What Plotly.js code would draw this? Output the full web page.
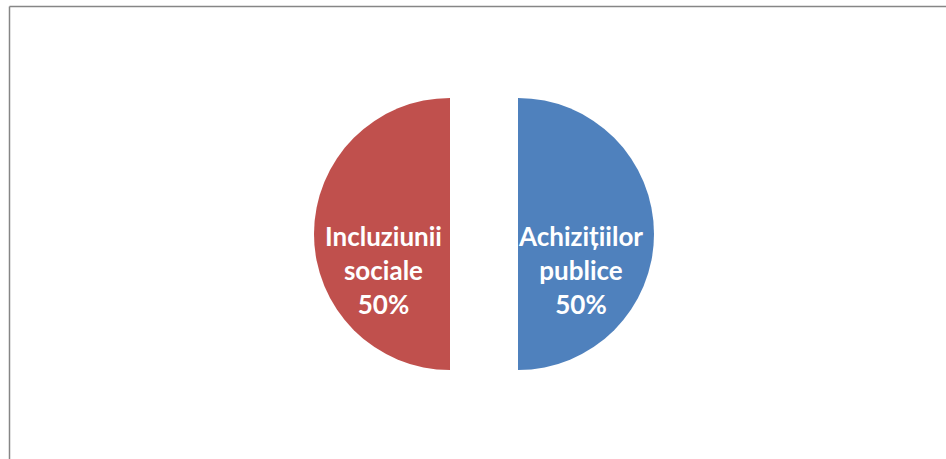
<!DOCTYPE html>
<html>
<head>
<meta charset="utf-8">
<script src="https://cdn.plot.ly/plotly-3.0.1.min.js"></script>
<style>html,body{margin:0;padding:0;background:#fff;}#chart{width:946px;height:459px;}</style>
</head>
<body>
<div id="chart"></div>
<script>
const labels = ['Achizițiilor<br>publice', 'Incluziunii<br>sociale'];
const values = [50, 50];
const colors = ['#4F81BD', '#C0504D'];

const W = 946, H = 459;
const total = values.reduce((a, b) => a + b, 0);

const trace = {
  type: 'pie',
  labels: labels,
  values: values,
  sort: false,
  direction: 'clockwise',
  rotation: 0,
  pull: [0.25, 0.25],
  marker: {colors: colors, line: {width: 0}},
  textinfo: 'none',
  hoverinfo: 'none',
  showlegend: false,
  domain: {x: [314/W, 654/W], y: [55/H, 395/H]}
};

// label positions (pixels) for each slice's text block
const labelPosPx = [[580, 270], [383.5, 270]];
const annotations = labels.map((lab, i) => ({
  xref: 'paper', yref: 'paper',
  x: labelPosPx[i][0] / W, y: 1 - labelPosPx[i][1] / H,
  xanchor: 'center', yanchor: 'middle',
  text: '<b>' + lab + '<br>' + Math.round(values[i] / total * 100) + '%</b>',
  showarrow: false,
  align: 'center',
  font: {family: 'Lato, sans-serif', size: 26, color: '#ffffff'}
}));

const layout = {
  width: W, height: H,
  margin: {l: 0, r: 0, t: 0, b: 0},
  paper_bgcolor: '#ffffff',
  showlegend: false,
  annotations: annotations,
  shapes: [
    {type: 'line', xref: 'paper', yref: 'paper', x0: 9.5/W, x1: 9.5/W, y0: 0, y1: (H-6.5)/H, line: {color: '#868686', width: 1.5}},
    {type: 'line', xref: 'paper', yref: 'paper', x0: 9.5/W, x1: 1, y0: (H-6.5)/H, y1: (H-6.5)/H, line: {color: '#868686', width: 1.5}}
  ]
};

Plotly.newPlot('chart', [trace], layout, {displayModeBar: false, staticPlot: true});
</script>
</body>
</html>
